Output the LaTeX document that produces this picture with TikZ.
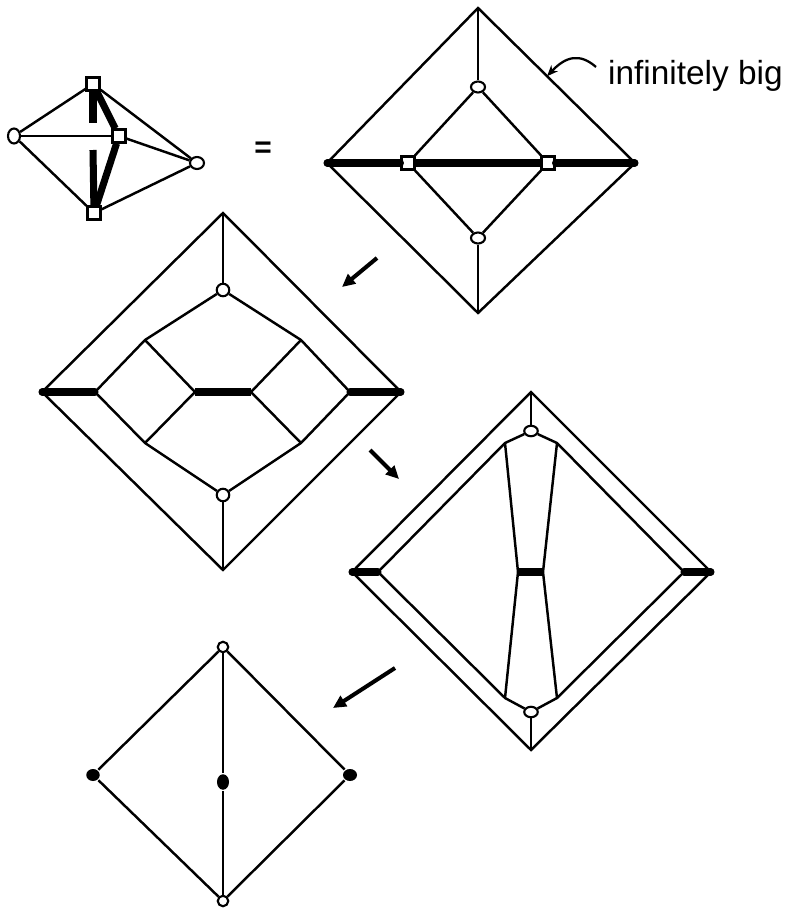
\documentclass[tikz,border=0pt]{standalone}
\usepackage{fontspec}
\setmainfont{Liberation Sans}
\usetikzlibrary{arrows.meta,shapes.geometric,calc}
\tikzset{every picture/.style={line width=1.4pt}}

\begin{document}
\begin{tikzpicture}[x=0.02cm, y=-0.02cm,
    edge/.style={line width=1.4pt},
    bond/.style={line width=4pt, line cap=round},
    hole/.style={draw, ellipse, fill=white, inner sep=0pt, line width=1.2pt,
                 minimum width=0.28cm, minimum height=0.22cm},
    box/.style={draw, rectangle, fill=white, inner sep=0pt, line width=1.2pt,
                minimum size=0.26cm},
    dot/.style={ellipse, fill=black, inner sep=0pt,
                minimum width=0.27cm, minimum height=0.24cm},
    move/.style={line width=2.3pt, -{Triangle[length=0.26cm, width=0.24cm]}},
    pointer/.style={line width=1.3pt, -{Stealth[open, length=0.22cm, width=0.18cm]}}]
    \useasboundingbox (0,0) rectangle (791,909);

    % kleiner Graph links oben
    \node[box] (sdT) at (93,84) {};
    \node[box] (sdM) at (119,136) {};
    \node[box] (sdB) at (94,213) {};
    \node[hole, minimum width=0.24cm, minimum height=0.30cm] (sdL) at (14,136) {};
    \node[hole, minimum width=0.28cm, minimum height=0.24cm] (sdR) at (197,163) {};
    \coordinate (sdG1) at (93,123);
    \coordinate (sdG2) at (93,150);
    \draw[edge] (sdL) -- (sdT);
    \draw[edge] (sdL) -- (sdM);
    \draw[edge] (sdL) -- (sdB);
    \draw[edge] (sdT) -- (sdR);
    \draw[edge] (sdM) -- (sdR);
    \draw[edge] (sdB) -- (sdR);
    \draw[bond, line cap=butt] (sdT) -- (sdM);
    \draw[bond, line cap=butt] (sdM) -- (sdB);
    \draw[bond, line cap=butt] (sdT) -- (sdG1);
    \draw[bond, line cap=butt] (sdG2) -- (sdB);

    % Gleichheitszeichen
    \node[font=\bfseries\fontsize{17}{20}\selectfont] (eq) at (263,150) {=};

    % grosse Raute rechts oben
    \coordinate (trN) at (478,8);
    \coordinate (trW) at (327,163);
    \coordinate (trE) at (635,163);
    \coordinate (trS) at (478,313);
    \node[hole] (trA) at (478,87) {};
    \node[hole] (trC) at (478,238) {};
    \node[box] (trP) at (408,163) {};
    \node[box] (trQ) at (548,163) {};
    \draw[edge] (trN) -- (trE) -- (trS) -- (trW) -- cycle;
    \draw[edge] (trN) -- (trA);
    \draw[edge] (trC) -- (trS);
    \draw[edge] (trA) -- (trP);
    \draw[edge] (trA) -- (trQ);
    \draw[edge] (trC) -- (trP);
    \draw[edge] (trC) -- (trQ);
    \draw[bond] (trW) -- (trP);
    \draw[bond, line cap=butt] (trP) -- (trQ);
    \draw[bond] (trQ) -- (trE);

    % Beschriftung
    \node[font=\fontsize{19}{22}\selectfont, anchor=base west, inner sep=0pt] (big) at (607,85) {infinitely big};
    \coordinate (bigtail) at (596,67);
    \coordinate (bighead) at ($(trN)!0.44!(trE)$);
    \draw[pointer] (bigtail) .. controls (580,53) and (566,56) .. (bighead);

    % Pfeil 1
    \coordinate (a1s) at (377,258);
    \coordinate (a1e) at (342,287);
    \draw[move] (a1s) -- (a1e);

    % Raute links in der Mitte
    \coordinate (mlN) at (223,213);
    \coordinate (mlW) at (42,392);
    \coordinate (mlE) at (401,392);
    \coordinate (mlS) at (223,570);
    \node[hole, minimum width=0.25cm, minimum height=0.25cm] (mlA) at (223,290) {};
    \node[hole, minimum width=0.25cm, minimum height=0.25cm] (mlC) at (223,495) {};
    \coordinate (mlUL) at (145,340);
    \coordinate (mlUR) at (301,340);
    \coordinate (mlLL) at (145,443);
    \coordinate (mlLR) at (301,443);
    \coordinate (mlP) at (95,392);
    \coordinate (mlQ) at (350,392);
    \coordinate (mlX) at (195,392);
    \coordinate (mlY) at (251,392);
    \draw[edge] (mlN) -- (mlE) -- (mlS) -- (mlW) -- cycle;
    \draw[edge] (mlN) -- (mlA);
    \draw[edge] (mlC) -- (mlS);
    \draw[edge] (mlA) -- (mlUL) -- (mlP) -- (mlLL) -- (mlC);
    \draw[edge] (mlA) -- (mlUR) -- (mlQ) -- (mlLR) -- (mlC);
    \draw[edge] (mlUL) -- (mlX) -- (mlLL);
    \draw[edge] (mlUR) -- (mlY) -- (mlLR);
    \draw[bond] (mlW) -- (mlP);
    \draw[bond, line cap=butt] (mlX) -- (mlY);
    \draw[bond] (mlQ) -- (mlE);

    % Pfeil 2
    \coordinate (a2s) at (370,450);
    \coordinate (a2e) at (399,479);
    \draw[move] (a2s) -- (a2e);

    % Raute rechts in der Mitte
    \coordinate (mrN) at (531,392);
    \coordinate (mrW) at (352,572);
    \coordinate (mrE) at (711,572);
    \coordinate (mrS) at (531,750);
    \node[hole, minimum width=0.27cm, minimum height=0.21cm] (mrA) at (531,431) {};
    \node[hole, minimum width=0.27cm, minimum height=0.21cm] (mrC) at (531,712) {};
    \coordinate (mrP) at (378,572);
    \coordinate (mrQ) at (684,572);
    \coordinate (mrTL) at (505,443);
    \coordinate (mrTR) at (557,443);
    \coordinate (mrBL) at (505,698);
    \coordinate (mrBR) at (557,698);
    \coordinate (mrX) at (518,572);
    \coordinate (mrY) at (543,572);
    \draw[edge] (mrN) -- (mrE) -- (mrS) -- (mrW) -- cycle;
    \draw[edge] (mrN) -- (mrA);
    \draw[edge] (mrC) -- (mrS);
    \draw[edge] (mrA) -- (mrTL) -- (mrP) -- (mrBL) -- (mrC);
    \draw[edge] (mrA) -- (mrTR) -- (mrQ) -- (mrBR) -- (mrC);
    \draw[edge] (mrTL) -- (mrX) -- (mrBL);
    \draw[edge] (mrTR) -- (mrY) -- (mrBR);
    \draw[bond] (mrW) -- (mrP);
    \draw[bond, line cap=butt] (mrX) -- (mrY);
    \draw[bond] (mrQ) -- (mrE);

    % Pfeil 3
    \coordinate (a3s) at (395,668);
    \coordinate (a3e) at (333,708);
    \draw[move] (a3s) -- (a3e);

    % Raute unten
    \node[hole, minimum width=0.21cm, minimum height=0.21cm] (btA) at (223,647) {};
    \node[hole, minimum width=0.21cm, minimum height=0.21cm] (btC) at (223,901) {};
    \node[dot] (btW) at (93,775) {};
    \node[dot, minimum width=0.28cm] (btE) at (350,775) {};
    \node[dot, minimum width=0.24cm, minimum height=0.31cm] (btM) at (223,782) {};
    \draw[edge] (btA) -- (btW);
    \draw[edge] (btA) -- (btE);
    \draw[edge] (btW) -- (btC);
    \draw[edge] (btE) -- (btC);
    \draw[edge] (btA) -- (btM);
    \draw[edge] (btM) -- (btC);
\end{tikzpicture}
\end{document}
